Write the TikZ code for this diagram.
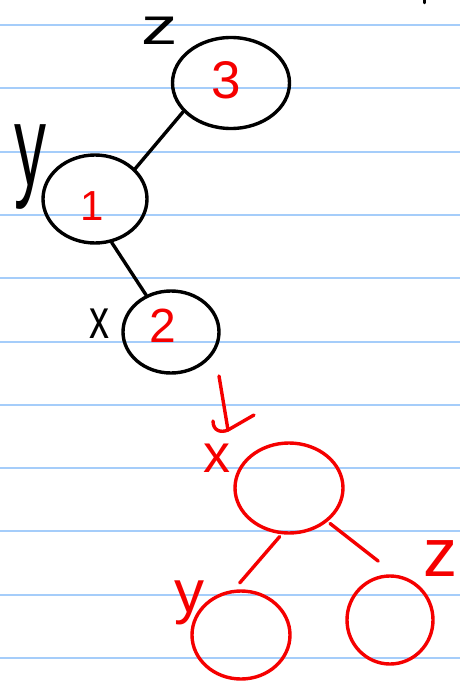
\documentclass[tikz,border=0pt]{standalone}
\usepackage{fontspec}
\setmainfont{Liberation Sans}
\usetikzlibrary{shapes.geometric}
\definecolor{paperline}{RGB}{165,205,250}
\definecolor{redink}{RGB}{245,0,0}
\begin{document}
\begin{tikzpicture}[x=1pt,y=-1pt,
  blob/.style={ellipse, draw, line width=3.4pt, inner sep=0pt},
  blackblob/.style={blob, draw=black},
  redblob/.style={blob, draw=redink},
  num/.style={text=redink, font=\fontsize{#1}{#1}\selectfont},
  lbl/.style={inner sep=0pt, font=\fontsize{#1}{#1}\selectfont},
  edge/.style={line width=3.4pt, line cap=round},
  ruling/.style={draw=paperline, line width=2pt}]
\useasboundingbox (0,0) rectangle (460,682);
\fill[white] (0,0) rectangle (460,682);
% ruled paper
\foreach \k in {0,...,10}{
  \draw[ruling] (0,{25+63.3*\k}) -- (460,{25+63.3*\k});
}
% stray mark top right
\draw[line width=2.5pt, line cap=round] (424.5,0) -- (424.5,3);

% ---------- upper (black) tree ----------
\node[blackblob, minimum width=117pt, minimum height=91pt] (n3) at (231,83) {};
\node[num=53] (t3) at (226,80) {3};
\node[blackblob, minimum width=104pt, minimum height=88pt] (n1) at (95,199) {};
\node[num=42] (t1) at (92,206) {1};
\node[blackblob, minimum width=96pt, minimum height=82pt] (n2) at (171,332) {};
\node[num=48] (t2) at (163,326) {2};

\draw[edge] (n3.211) -- (n1.37);
\draw[edge] (n1.291) -- (n2.124);

\node[lbl=52, xscale=1.4] (lz) at (160,31) {z};
\node[lbl=64, yscale=1.8] (ly) at (30,167) {y};
\node[lbl=40, yscale=1.4] (lx) at (99,324) {x};

% ---------- arrow ----------
\coordinate (as) at (219,376);
\coordinate (ae) at (228,430);
\draw[edge, draw=redink] (as) -- (ae);
\draw[edge, draw=redink, line join=round] (213,421) .. controls (213,431) and (221,433) .. (ae) -- (254,415);

% ---------- lower (red) tree ----------
\node[redblob, minimum width=108pt, minimum height=90pt] (rt) at (289,488) {};
\node[redblob, minimum width=98pt, minimum height=88pt] (rl) at (241,635) {};
\node[redblob, minimum width=86pt, minimum height=88pt] (rr) at (390,620) {};

\draw[edge, draw=redink, shorten <=3pt, shorten >=9pt] (rt.261) -- (rl.99);
\draw[edge, draw=redink, shorten <=3pt, shorten >=22pt] (rt.319) -- (rr.83);

\node[lbl=54, text=redink] (rx) at (217,458) {x};
\node[lbl=60, text=redink] (ry) at (189,603) {y};
\node[lbl=68, text=redink] (rz) at (440,559) {z};
\end{tikzpicture}
\end{document}
